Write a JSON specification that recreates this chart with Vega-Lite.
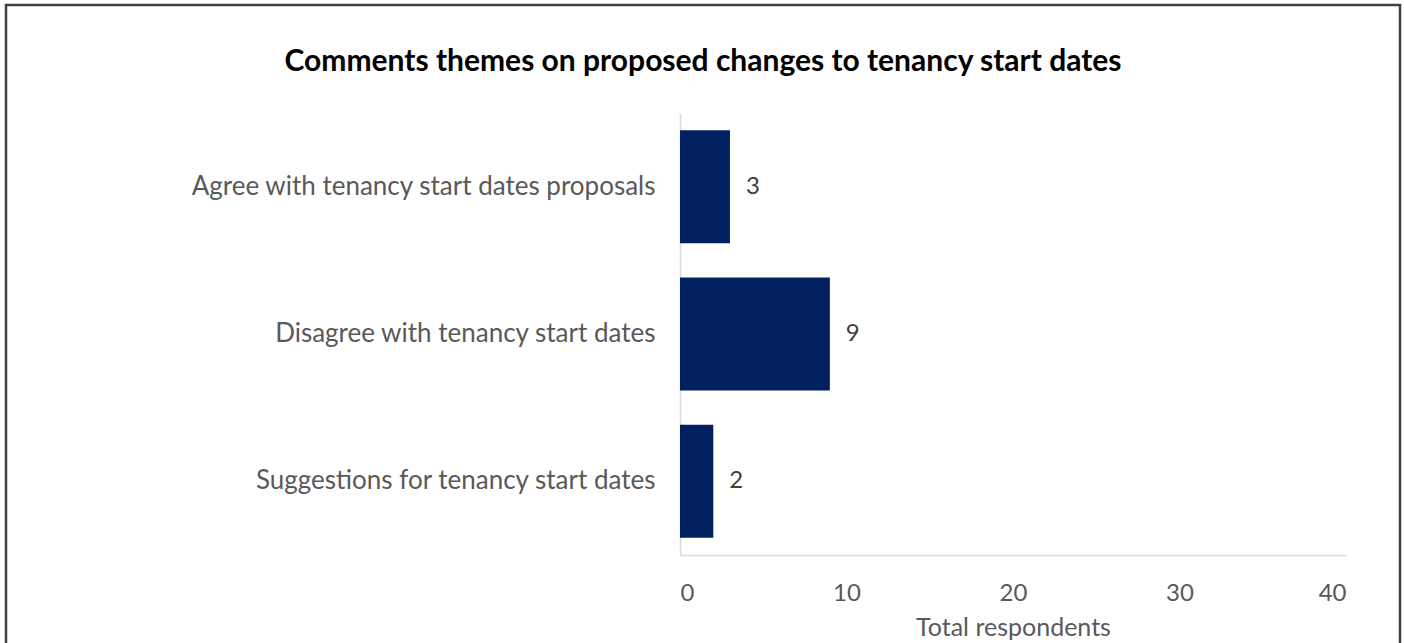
{
  "$schema": "https://vega.github.io/schema/vega-lite/v6.json",
  "width": 1394,
  "height": 642,
  "autosize": {"type": "none"},
  "padding": {"left": 6, "top": 5, "right": 4, "bottom": -4},
  "background": "white",
  "config": {
    "view": {"stroke": "#404040", "strokeWidth": 2.5},
    "font": "Lato"
  },
  "title": {
    "text": "Comments themes on proposed changes to tenancy start dates",
    "font": "Lato",
    "fontSize": 30,
    "fontWeight": "bold",
    "color": "#000000",
    "anchor": "middle",
    "frame": "group",
    "baseline": "alphabetic",
    "offset": -96
  },
  "data": {
    "values": [
      {"theme": "Agree with tenancy start dates proposals", "respondents": 3},
      {"theme": "Disagree with tenancy start dates", "respondents": 9},
      {"theme": "Suggestions for tenancy start dates", "respondents": 2}
    ]
  },
  "encoding": {
    "y": {
      "field": "theme",
      "type": "nominal",
      "sort": null,
      "scale": {"range": [108, 550], "paddingInner": 0.233, "paddingOuter": 0.1165},
      "axis": {
        "orient": "left",
        "offset": -674,
        "title": null,
        "ticks": false,
        "grid": false,
        "domainColor": "#d9d9d9",
        "domainWidth": 1.5,
        "labelFont": "Lato",
        "labelFontSize": 26,
        "labelColor": "#595959",
        "labelPadding": 25,
        "labelLimit": 0
      }
    },
    "x": {
      "field": "respondents",
      "type": "quantitative",
      "scale": {"domain": [0, 40], "range": [674, 1340], "nice": false},
      "axis": {
        "orient": "bottom",
        "offset": -92,
        "values": [0, 10, 20, 30, 40],
        "ticks": false,
        "grid": false,
        "domainColor": "#d9d9d9",
        "domainWidth": 1.5,
        "labelFont": "Lato",
        "labelFontSize": 24,
        "labelColor": "#595959",
        "labelPadding": 26,
        "title": "Total respondents",
        "titleFont": "Lato",
        "titleFontSize": 25,
        "titleFontWeight": "normal",
        "titleColor": "#595959",
        "titlePadding": 10
      }
    }
  },
  "layer": [
    {"mark": {"type": "bar", "color": "#002060"}},
    {
      "mark": {"type": "text", "align": "left", "baseline": "middle", "dx": 16, "font": "Lato", "fontSize": 24, "color": "#404040"},
      "encoding": {"text": {"field": "respondents", "type": "quantitative"}}
    }
  ]
}
